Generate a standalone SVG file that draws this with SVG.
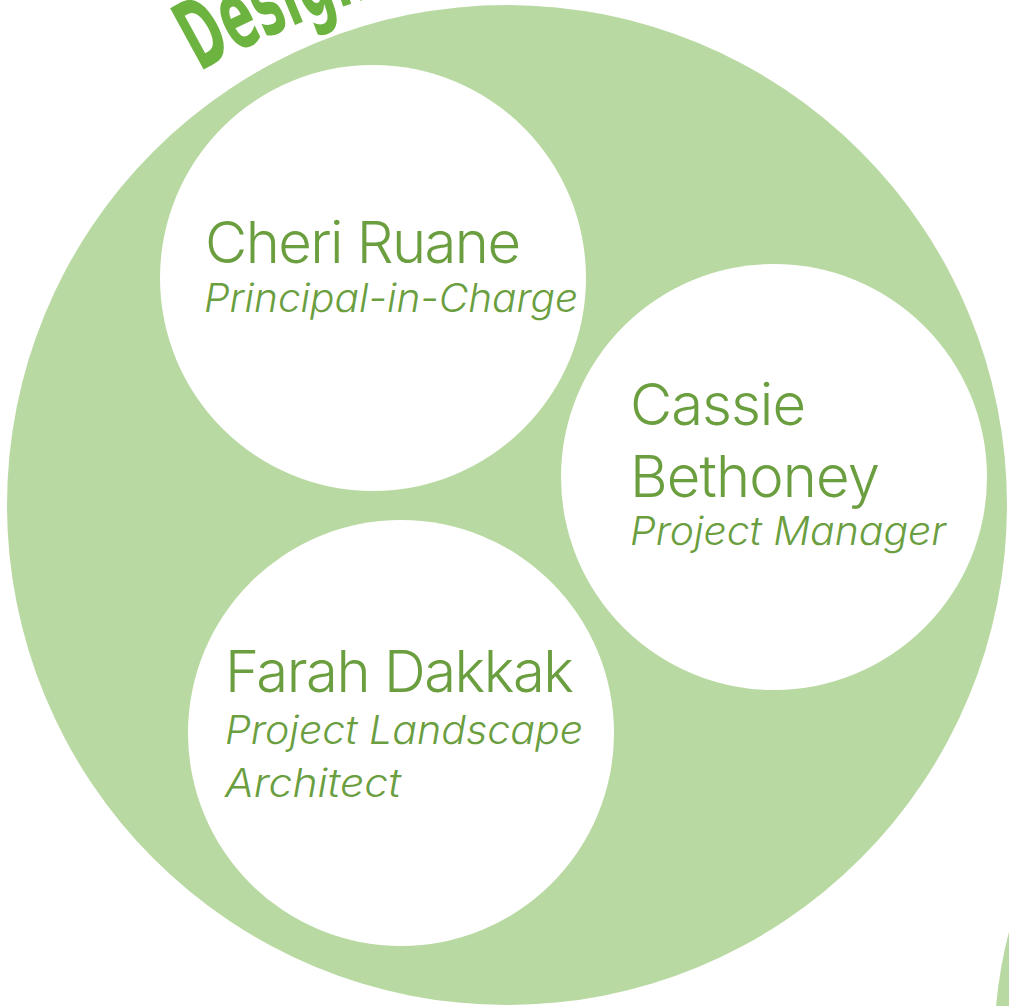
<svg xmlns="http://www.w3.org/2000/svg" width="1009" height="1006" viewBox="0 0 1009 1006">
  <style>
    .bg { fill: #b9d9a2; }
    .node { fill: #ffffff; }
    .name { font-family: Inter, "Noto Sans", "Liberation Sans", sans-serif; font-weight: 300; font-size: 58px; fill: #6a9e3f; }
    .role { font-family: Inter, "Noto Sans", "Liberation Sans", sans-serif; font-weight: 300; font-style: italic; font-size: 39px; fill: #6a9e3f; }
    .title { font-family: "Liberation Sans Narrow", "DejaVu Sans Condensed", "DejaVu Sans", sans-serif; font-weight: bold; font-size: 96px; fill: #6db33f; }
  </style>
  <defs>
    <path id="titleArc" d="M200,72 A830,830 0 0,1 1030,72"/>
  </defs>
  <rect width="1009" height="1006" fill="#ffffff"/>
  <g id="team-circle">
    <circle class="bg" cx="507" cy="505" r="500"/>
  </g>
  <path class="bg" d="M1009,932 Q1000,965 996,1006 L1009,1006 Z"/>
  <g id="title">
    <text class="title"><textPath href="#titleArc" textLength="188" lengthAdjust="spacingAndGlyphs">Design</textPath></text>
  </g>
  <g id="connectors"></g>
  <g id="node-cheri">
    <circle class="node" cx="373" cy="278" r="213"/>
    <text class="name" x="205" y="263" textLength="316">Cheri Ruane</text>
    <text class="role" x="204" y="312" textLength="374" lengthAdjust="spacingAndGlyphs">Principal-in-Charge</text>
  </g>
  <g id="node-cassie">
    <circle class="node" cx="774" cy="477" r="213"/>
    <text class="name" x="630" y="425" textLength="176">Cassie</text>
    <text class="name" x="630" y="497" textLength="250">Bethoney</text>
    <text class="role" x="630" y="545" textLength="316" lengthAdjust="spacingAndGlyphs">Project Manager</text>
  </g>
  <g id="node-farah">
    <circle class="node" cx="401" cy="733" r="213"/>
    <text class="name" x="225" y="692" textLength="349">Farah Dakkak</text>
    <text class="role" x="225" y="744" textLength="358" lengthAdjust="spacingAndGlyphs">Project Landscape</text>
    <text class="role" x="225" y="797" textLength="176" lengthAdjust="spacingAndGlyphs">Architect</text>
  </g>
</svg>
